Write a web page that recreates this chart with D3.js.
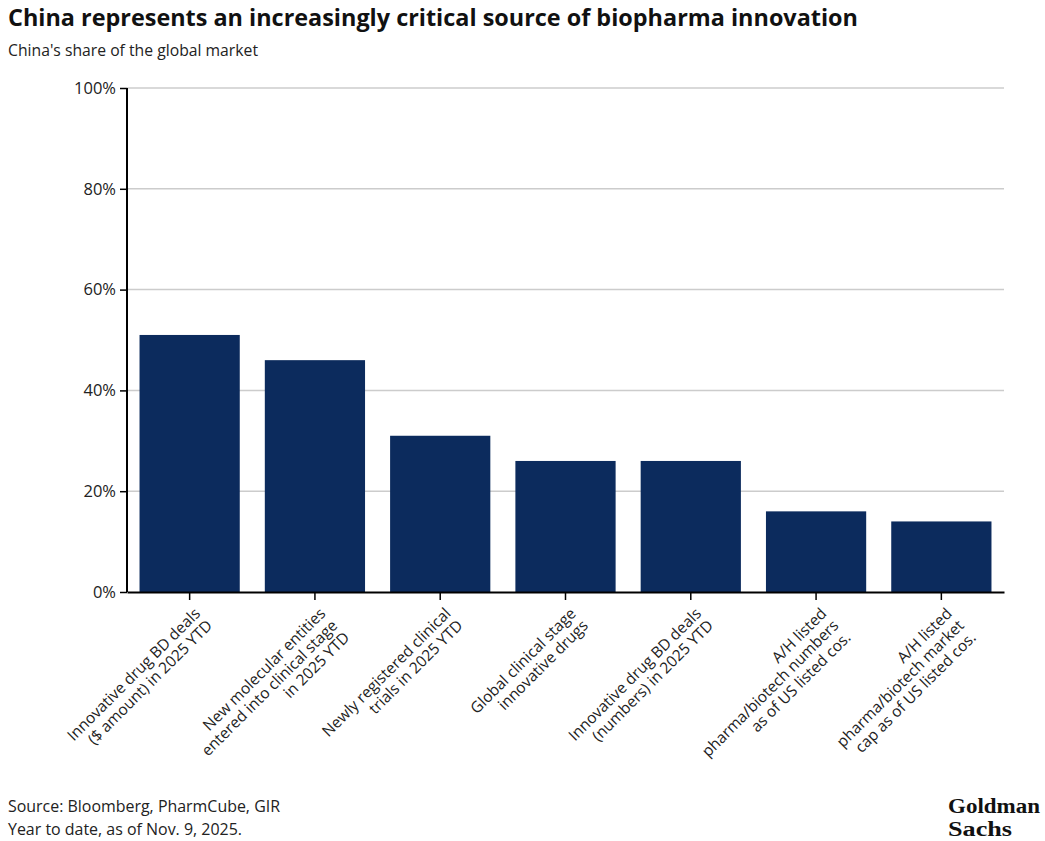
<!DOCTYPE html>
<html>
<head>
<meta charset="utf-8">
<script src="https://cdn.jsdelivr.net/npm/d3@7"></script>
<style>
  body { margin: 0; background: #fff; }
  text { font-family: "Open Sans", "Noto Sans", sans-serif; }
</style>
</head>
<body>
<div id="chart"></div>
<script>
// categories, one label line per entry
var categories = [
    ["Innovative drug BD deals", "($ amount) in 2025 YTD"],
    ["New molecular entities", "entered into clinical stage", "in 2025 YTD"],
    ["Newly registered clinical", "trials in 2025 YTD"],
    ["Global clinical stage", "innovative drugs"],
    ["Innovative drug BD deals", "(numbers) in 2025 YTD"],
    ["A/H listed", "pharma/biotech numbers", "as of US listed cos."],
    ["A/H listed", "pharma/biotech market", "cap as of US listed cos."]
];
var shares = [51, 46, 31, 26, 26, 16, 14];
var yTicks = [0, 20, 40, 60, 80, 100];

var width = 1045, height = 841;
var margin = {top: 88, right: 41, bottom: 249, left: 127};

var svg = d3.select("#chart").append("svg")
    .attr("width", width)
    .attr("height", height);

// titles
svg.append("text")
    .attr("x", 8).attr("y", 26)
    .attr("font-size", 23).attr("font-weight", 700)
    .attr("fill", "#111")
    .attr("textLength", 850).attr("lengthAdjust", "spacingAndGlyphs")
    .text("China represents an increasingly critical source of biopharma innovation");

svg.append("text")
    .attr("x", 8).attr("y", 56)
    .attr("font-size", 15.5).attr("fill", "#222")
    .attr("textLength", 250).attr("lengthAdjust", "spacingAndGlyphs")
    .text("China's share of the global market");

var g = svg.append("g")
    .attr("transform", "translate(" + margin.left + "," + margin.top + ")");

var w = width - margin.left - margin.right;
var h = height - margin.top - margin.bottom;

var x = d3.scaleBand()
    .domain(d3.range(categories.length))
    .range([0, w])
    .paddingInner(0.2)
    .paddingOuter(0.1);

var y = d3.scaleLinear().domain([0, 100]).range([h, 0]);

// gridlines
g.append("g")
    .selectAll("line")
    .data(yTicks.filter(d => d > 0))
    .join("line")
    .attr("x1", 0).attr("x2", w)
    .attr("y1", d => y(d)).attr("y2", d => y(d))
    .attr("stroke", "#cccccc")
    .attr("stroke-width", 1.5);

// bars
g.append("g")
    .selectAll("rect")
    .data(shares)
    .join("rect")
    .attr("x", (d, i) => x(i))
    .attr("width", x.bandwidth())
    .attr("y", d => y(d))
    .attr("height", d => h - y(d))
    .attr("fill", "#0c2b5d");

// y axis
var yAxis = g.append("g")
    .call(d3.axisLeft(y).tickValues(yTicks).tickFormat(d => d + "%").tickSize(7).tickPadding(4));
yAxis.select(".domain").attr("d", "M0," + y(100) + "V" + h).attr("stroke", "#000").attr("stroke-width", 2);
yAxis.selectAll(".tick line").attr("stroke", "#000").attr("stroke-width", 1.5);
yAxis.selectAll(".tick text")
    .attr("font-family", "'Open Sans', sans-serif")
    .attr("font-size", 16.5).attr("fill", "#222");

// x axis
var xAxis = g.append("g")
    .attr("transform", "translate(0," + h + ")")
    .call(d3.axisBottom(x).tickSize(8).tickSizeOuter(0).tickFormat(""));
xAxis.select(".domain").attr("stroke", "#000").attr("stroke-width", 2);
xAxis.selectAll(".tick line").attr("stroke", "#000").attr("stroke-width", 1.5);

// rotated multi-line category labels, right aligned
var labels = g.append("g")
    .selectAll("text")
    .data(categories)
    .join("text")
    .attr("transform", (d, i) => "translate(" + (x(i) + x.bandwidth() / 2 + 3) + "," + (h + 14) + ") rotate(-45)")
    .attr("text-anchor", "end")
    .attr("font-size", 15.5)
    .attr("fill", "#222");

labels.selectAll("tspan")
    .data(d => d)
    .join("tspan")
    .attr("x", 0)
    .attr("y", (d, i) => 12 + i * 17)
    .text(d => d);

// footer
svg.append("text")
    .attr("x", 8).attr("y", 812)
    .attr("font-size", 16).attr("fill", "#222")
    .attr("textLength", 272).attr("lengthAdjust", "spacingAndGlyphs")
    .text("Source: Bloomberg, PharmCube, GIR");

svg.append("text")
    .attr("x", 8).attr("y", 835)
    .attr("font-size", 16).attr("fill", "#222")
    .attr("textLength", 234).attr("lengthAdjust", "spacingAndGlyphs")
    .text("Year to date, as of Nov. 9, 2025.");

// logo, two lines in one text
var logo = svg.append("text")
    .attr("font-size", 20)
    .attr("font-weight", 700)
    .attr("fill", "#111")
    .style("font-family", "'Liberation Serif', serif");
logo.append("tspan")
    .attr("x", 948).attr("y", 813)
    .attr("textLength", 92).attr("lengthAdjust", "spacingAndGlyphs")
    .text("Goldman");
logo.append("tspan")
    .attr("x", 948).attr("y", 836)
    .attr("textLength", 64).attr("lengthAdjust", "spacingAndGlyphs")
    .text("Sachs");
</script>
</body>
</html>
